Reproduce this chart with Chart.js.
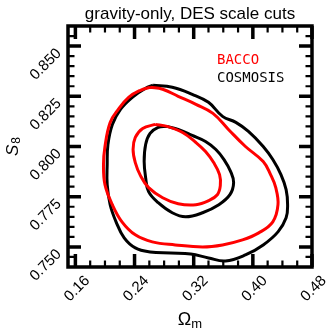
<!DOCTYPE html>
<html>
<head>
<meta charset="utf-8">
<script src="https://cdn.jsdelivr.net/npm/chart.js@4.4.0/dist/chart.umd.min.js"></script>
<style>
html, body { margin: 0; padding: 0; background: #fff; }
</style>
</head>
<body>
<canvas id="grafico" width="333" height="334"></canvas>
<script>
// Contornos (Omega_m, S8)
const baccoOuterX = [0.261, 0.278, 0.299, 0.323, 0.346, 0.367, 0.390, 0.414, 0.424, 0.431, 0.434, 0.427, 0.408, 0.386, 0.359, 0.332, 0.295, 0.264, 0.241, 0.223, 0.210, 0.200, 0.198, 0.200, 0.207, 0.218, 0.232, 0.248];
const baccoOuterY = [0.8295, 0.8285, 0.825, 0.821, 0.8165, 0.8085, 0.800, 0.7925, 0.786, 0.7795, 0.771, 0.7625, 0.757, 0.7535, 0.751, 0.750, 0.751, 0.7525, 0.756, 0.7625, 0.771, 0.781, 0.791, 0.800, 0.812, 0.8185, 0.8245, 0.828];

const baccoInnerX = [0.268, 0.284, 0.305, 0.323, 0.336, 0.347, 0.355, 0.356, 0.352, 0.340, 0.323, 0.299, 0.278, 0.259, 0.248, 0.241, 0.238, 0.241, 0.251];
const baccoInnerY = [0.811, 0.810, 0.807, 0.802, 0.7975, 0.792, 0.786, 0.7805, 0.776, 0.773, 0.771, 0.7715, 0.7745, 0.7795, 0.7855, 0.792, 0.7985, 0.8045, 0.809];

const cosmosisOuterX = [0.265, 0.291, 0.318, 0.340, 0.359, 0.377, 0.394, 0.414, 0.427, 0.438, 0.445, 0.447, 0.445, 0.434, 0.414, 0.390, 0.363, 0.340, 0.316, 0.289, 0.261, 0.241, 0.226, 0.215, 0.207, 0.203, 0.203, 0.204, 0.210, 0.221, 0.237, 0.255];
const cosmosisOuterY = [0.8305, 0.8295, 0.826, 0.822, 0.815, 0.812, 0.8075, 0.800, 0.7935, 0.786, 0.7785, 0.771, 0.7645, 0.7575, 0.751, 0.746, 0.743, 0.7445, 0.7465, 0.747, 0.7475, 0.7495, 0.7545, 0.7625, 0.771, 0.781, 0.791, 0.801, 0.811, 0.8185, 0.8245, 0.829];

const cosmosisInnerX = [0.284, 0.299, 0.318, 0.336, 0.350, 0.361, 0.370, 0.374, 0.369, 0.354, 0.332, 0.309, 0.291, 0.272, 0.259, 0.255, 0.253, 0.255, 0.261, 0.272];
const cosmosisInnerY = [0.810, 0.8085, 0.8055, 0.8025, 0.7985, 0.7935, 0.7875, 0.782, 0.776, 0.771, 0.767, 0.765, 0.767, 0.772, 0.7775, 0.7845, 0.7925, 0.801, 0.8065, 0.8095];

const xTicks = [0.16, 0.24, 0.32, 0.40, 0.48];
const yTicks = [0.750, 0.775, 0.800, 0.825, 0.850];
const series = ['BACCO', 'COSMOSIS'];

const colores = ['#ff0000', '#000000'];
const fuente = "'Liberation Sans', Arial, sans-serif";

// cerrar cada contorno repitiendo el primer punto
function contorno(xs, ys) {
    const p = xs.map((x, i) => ({ x: x, y: ys[i] }));
    p.push(p[0]);
    return p;
}

function linea(label, xs, ys, color) {
    return {
        label: label,
        data: contorno(xs, ys),
        borderColor: color,
        borderWidth: 3,
        showLine: true,
        pointRadius: 0,
        tension: 0.4,
        fill: false
    };
}

// marco, ticks hacia dentro, titulos y leyenda
const marco = {
    id: 'marco',
    afterDraw(chart) {
        const ctx = chart.ctx;
        const a = chart.chartArea;
        const sx = chart.scales.x;
        const sy = chart.scales.y;
        ctx.save();
        ctx.strokeStyle = '#000';
        ctx.lineCap = 'butt';

        function tickX(v, len, w) {
            const px = sx.getPixelForValue(v);
            ctx.lineWidth = w;
            ctx.beginPath();
            ctx.moveTo(px, a.bottom); ctx.lineTo(px, a.bottom - len);
            ctx.moveTo(px, a.top); ctx.lineTo(px, a.top + len);
            ctx.stroke();
        }
        function tickY(v, len, w) {
            const py = sy.getPixelForValue(v);
            ctx.lineWidth = w;
            ctx.beginPath();
            ctx.moveTo(a.left, py); ctx.lineTo(a.left + len, py);
            ctx.moveTo(a.right, py); ctx.lineTo(a.right - len, py);
            ctx.stroke();
        }

        for (let k = 0; k <= 16; k++) {
            if (k % 4 !== 0) tickX(xTicks[0] + k * 0.02, 6.5, 2.2);
        }
        for (let k = 0; k <= 24; k++) {
            if ((k - 2) % 5 !== 0) tickY(0.74 + k * 0.005, 6.5, 2.2);
        }
        xTicks.forEach(v => tickX(v, 13, 3.5));
        yTicks.forEach(v => tickY(v, 13, 3.5));

        ctx.lineWidth = 3.5;
        ctx.strokeRect(a.left, a.top, a.right - a.left, a.bottom - a.top);

        // titulo
        ctx.fillStyle = '#000';
        ctx.textAlign = 'center';
        ctx.textBaseline = 'middle';
        ctx.font = '17px ' + fuente;
        ctx.fillText('gravity-only, DES scale cuts', (a.left + a.right) / 2, 14);

        // eje x: Omega_m
        ctx.textAlign = 'left';
        ctx.textBaseline = 'alphabetic';
        ctx.font = '18px ' + fuente;
        const wO = ctx.measureText('Ω').width;
        ctx.font = '13px ' + fuente;
        const wm = ctx.measureText('m').width;
        const x0 = (a.left + a.right) / 2 - (wO + wm) / 2;
        ctx.font = '18px ' + fuente;
        ctx.fillText('Ω', x0, 325);
        ctx.font = '13px ' + fuente;
        ctx.fillText('m', x0 + wO, 328);

        // eje y: S_8
        ctx.save();
        ctx.translate(18, 156);
        ctx.rotate(-Math.PI / 2);
        ctx.font = 'italic 17px ' + fuente;
        const wS = ctx.measureText('S').width;
        ctx.fillText('S', 0, 0);
        ctx.font = '12px ' + fuente;
        ctx.fillText('8', wS + 1, 2);
        ctx.restore();

        // leyenda
        ctx.font = "14px 'DejaVu Sans Mono', monospace";
        ctx.textBaseline = 'middle';
        series.forEach((s, i) => {
            ctx.fillStyle = colores[i];
            ctx.fillText(s, 217, 60 + i * 18.5);
        });
        ctx.restore();
    }
};

const ctx = document.getElementById('grafico').getContext('2d');

new Chart(ctx, {
    type: 'scatter',
    data: {
        datasets: [
            linea(series[0], baccoOuterX, baccoOuterY, colores[0]),
            linea(series[0], baccoInnerX, baccoInnerY, colores[0]),
            linea(series[1], cosmosisOuterX, cosmosisOuterY, colores[1]),
            linea(series[1], cosmosisInnerX, cosmosisInnerY, colores[1])
        ]
    },
    options: {
        responsive: false,
        animation: false,
        layout: {
            padding: { top: 26, right: 21, left: 0, bottom: 0 }
        },
        plugins: {
            legend: { display: false },
            title: { display: false },
            tooltip: { enabled: false }
        },
        scales: {
            x: {
                type: 'linear',
                min: 0.15,
                max: 0.48,
                afterBuildTicks: s => { s.ticks = xTicks.map(v => ({ value: v })); },
                afterFit: s => {
                    s.height = 67;
                    s.paddingLeft = 0; s.paddingRight = 0;
                },
                grid: { display: false, drawTicks: false },
                border: { display: false },
                ticks: {
                    autoSkip: false,
                    minRotation: 45,
                    maxRotation: 45,
                    padding: 5,
                    labelOffset: 12,
                    color: '#000',
                    font: { family: fuente, size: 15 },
                    callback: v => v.toFixed(2)
                }
            },
            y: {
                type: 'linear',
                min: 0.74,
                max: 0.86,
                afterBuildTicks: s => { s.ticks = yTicks.map(v => ({ value: v })); },
                afterFit: s => {
                    s.width = 68;
                    s.paddingTop = 0; s.paddingBottom = 0;
                },
                grid: { display: false, drawTicks: false },
                border: { display: false },
                ticks: {
                    autoSkip: false,
                    minRotation: 45,
                    maxRotation: 45,
                    padding: 9,
                    labelOffset: 5,
                    color: '#000',
                    font: { family: fuente, size: 15 },
                    callback: v => v.toFixed(3)
                }
            }
        }
    },
    plugins: [marco]
});
</script>
</body>
</html>
